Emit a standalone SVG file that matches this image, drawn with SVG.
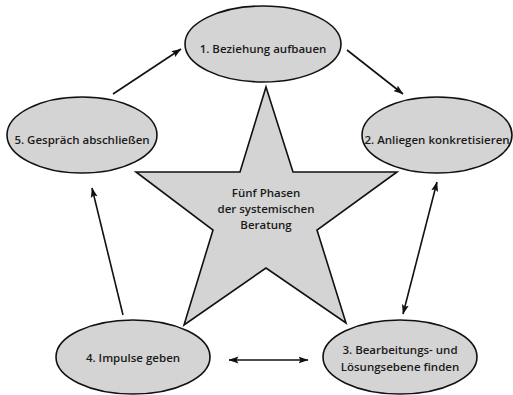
<svg xmlns="http://www.w3.org/2000/svg" width="513" height="395" viewBox="0 0 513 395">
<style>
.n{fill:#d4d4d4;stroke:#111;stroke-width:1.6}
.t{font-family:"Open Sans","Liberation Sans",sans-serif;font-size:11.5px;font-weight:600;fill:#1a1a1a;text-anchor:middle}
.c{stroke:#111;stroke-width:1.6;fill:none}
</style>
<defs>
<marker id="ah" viewBox="0 0 10 8" refX="9.5" refY="4" markerWidth="10" markerHeight="8" orient="auto-start-reverse" markerUnits="userSpaceOnUse">
<path d="M0,0.5 L10,4 L0,7.5 L2,4 z" fill="#111"/>
</marker>
</defs>
<rect width="513" height="395" fill="#fff"/>
<g id="star">
<polygon class="n" points="266,87 293,172 397,172 317,230 346,323 266,268 184,325 213,230 136,172 240,172"/>
<text class="t" x="266" y="197">Fünf Phasen</text>
<text class="t" x="266" y="213">der systemischen</text>
<text class="t" x="266" y="229">Beratung</text>
</g>
<g id="n1">
<ellipse class="n" cx="263" cy="44" rx="78" ry="38"/>
<text class="t" x="263" y="53">1. Beziehung aufbauen</text>
</g>
<g id="n2">
<ellipse class="n" cx="437" cy="135" rx="75" ry="38"/>
<text class="t" x="437" y="144">2. Anliegen konkretisieren</text>
</g>
<g id="n3">
<ellipse class="n" cx="400" cy="357" rx="77" ry="37"/>
<text class="t" x="400" y="354">3. Bearbeitungs- und</text>
<text class="t" x="400" y="371">Lösungsebene finden</text>
</g>
<g id="n4">
<ellipse class="n" cx="133" cy="357" rx="77" ry="37"/>
<text class="t" x="133" y="362">4. Impulse geben</text>
</g>
<g id="n5">
<ellipse class="n" cx="82" cy="135" rx="75" ry="38"/>
<text class="t" x="82" y="144">5. Gespräch abschließen</text>
</g>
<g id="connectors">
<line class="c" x1="113" y1="94" x2="181" y2="49" marker-end="url(#ah)"/>
<line class="c" x1="347" y1="50" x2="403" y2="94" marker-end="url(#ah)"/>
<line class="c" x1="437" y1="182" x2="403" y2="314" marker-start="url(#ah)" marker-end="url(#ah)"/>
<line class="c" x1="229" y1="360" x2="308" y2="360" marker-start="url(#ah)" marker-end="url(#ah)"/>
<line class="c" x1="123" y1="315" x2="92" y2="188" marker-end="url(#ah)"/>
</g>
</svg>
